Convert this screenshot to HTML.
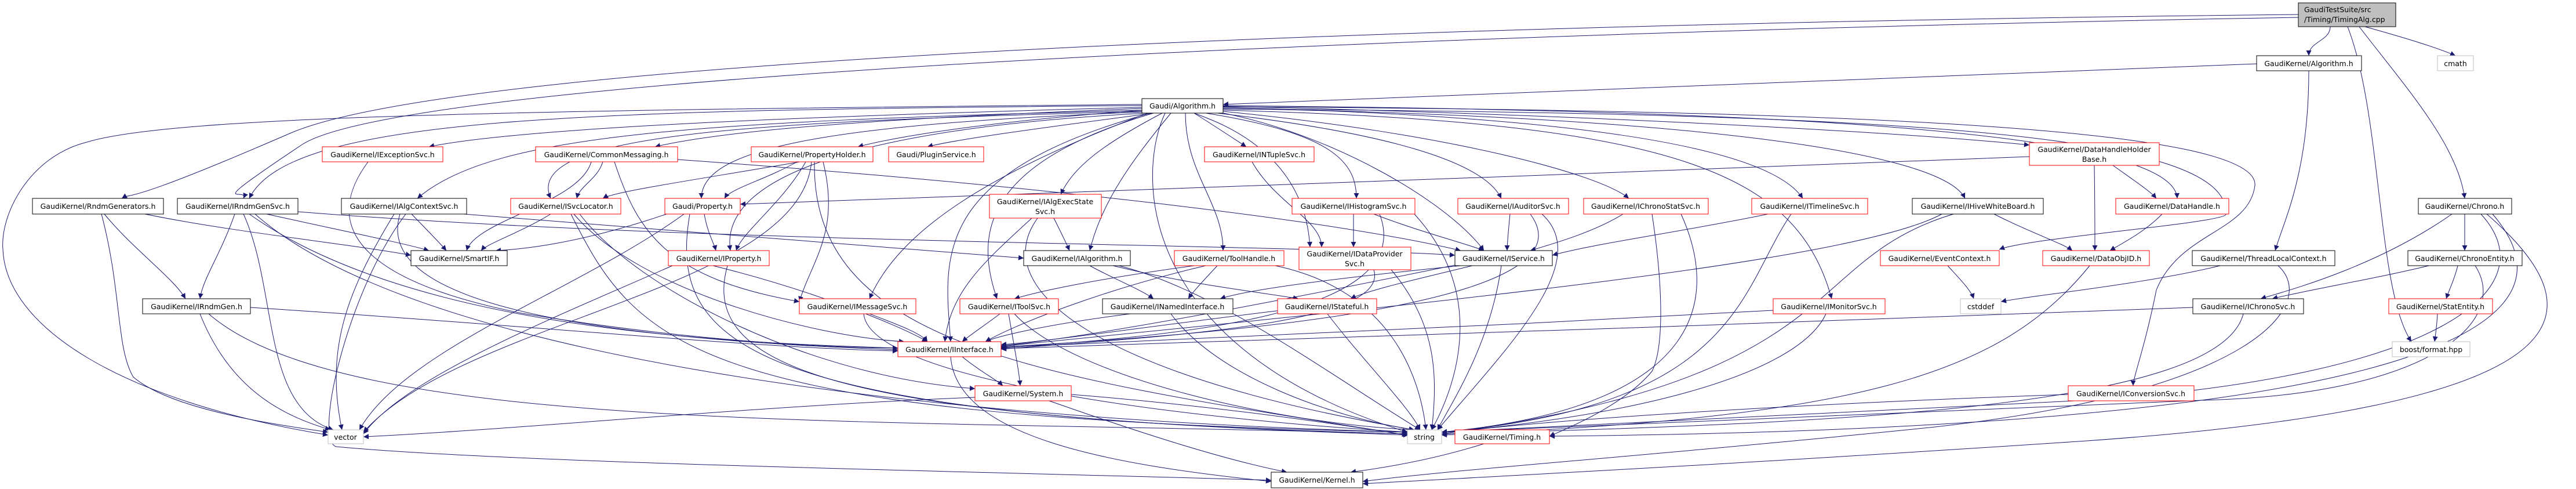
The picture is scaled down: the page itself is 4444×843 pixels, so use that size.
<!DOCTYPE html>
<html><head><meta charset="utf-8"><style>
html,body{margin:0;padding:0;background:#fff;width:4444px;height:843px;overflow:hidden}
svg{display:block}
text{font-family:"DejaVu Sans","Liberation Sans",sans-serif;font-size:12.5px;fill:#000}
.r{fill:#fff;stroke:#ff0000;stroke-width:1}
.b{fill:#fff;stroke:#000;stroke-width:1}
.g{fill:#fff;stroke:#bfbfbf;stroke-width:1}
.e path{fill:none;stroke:#191970;stroke-width:1;marker-end:url(#a)}
</style></head><body>
<svg width="4444" height="843" viewBox="0 0 4444 843" xmlns="http://www.w3.org/2000/svg">
<defs><marker id="a" viewBox="0 0 10 10" refX="10" refY="5" markerWidth="10" markerHeight="9" markerUnits="userSpaceOnUse" orient="auto"><path d="M0,0 L10,5 L0,10z" fill="#191970" stroke="none"/></marker></defs>
<g class="e">
<path d="M4020,46 C4020,71 3983,71 3983,96"/>
<path d="M4080,46 C4130,60 4200,80 4236,96"/>
<path d="M4070,46 C4150,150 4240,250 4252,342"/>
<path d="M4050,46 C4110,200 4100,500 4160,589"/>
<path d="M3965,25 C2500,40 800,100 500,230 S230,330 210,342"/>
<path d="M3965,30 C2500,55 700,130 520,250 S430,320 420,342"/>
<path d="M3893,110 L2110,180"/>
<path d="M3983,122 C3983,300 3940,380 3925,432"/>
<path d="M1970,185 C1400,200 900,220 740,253"/>
<path d="M1970,187 C1500,205 1250,225 1130,253"/>
<path d="M1972,190 C1700,210 1550,235 1480,253"/>
<path d="M1990,195 C1800,220 1650,240 1600,253"/>
<path d="M2060,195 C2100,220 2130,240 2150,253"/>
<path d="M1970,182 C1000,190 500,200 430,342"/>
<path d="M1970,190 C1200,210 850,230 720,342"/>
<path d="M1970,192 C1300,210 900,230 950,342"/>
<path d="M1975,193 C1400,215 1210,260 1210,342"/>
<path d="M1978,195 C1500,220 1240,300 1260,432"/>
<path d="M1970,180 C900,190 300,200 150,245 C50,270 0,370 5,430 C10,560 200,690 566,750"/>
<path d="M2010,195 C1960,300 1960,600 2428,745"/>
<path d="M2020,195 C1950,280 1900,350 1880,432"/>
<path d="M2005,195 C1900,250 1850,290 1830,335"/>
<path d="M1990,195 C1700,280 1680,400 1720,515"/>
<path d="M1985,195 C1600,300 1630,450 1640,589"/>
<path d="M1980,195 C1700,300 1550,400 1500,515"/>
<path d="M2045,195 C2045,300 2110,350 2110,432"/>
<path d="M2060,195 C2100,210 2250,260 2260,426"/>
<path d="M2080,195 C2300,230 2340,280 2340,342"/>
<path d="M2100,195 C2400,230 2560,280 2590,342"/>
<path d="M2110,192 C2500,230 2760,300 2810,342"/>
<path d="M2100,193 C2300,230 2500,350 2560,432"/>
<path d="M2110,185 C2700,200 3050,250 3110,342"/>
<path d="M2110,187 C2900,200 3350,260 3390,342"/>
<path d="M2110,183 C2800,200 3300,230 3501,250"/>
<path d="M2110,182 C3000,190 3750,220 3756,342"/>
<path d="M2110,188 C3300,195 3850,230 3840,370 C3830,385 3500,410 3449,430"/>
<path d="M2110,190 C2900,210 3100,300 3160,515"/>
<path d="M2110,184 C3200,190 3900,220 3890,320 C3880,400 3760,400 3720,500 C3700,600 3680,650 3680,665"/>
<path d="M1020,279 C1000,350 820,380 805,432"/>
<path d="M1040,279 C1030,310 1000,320 995,342"/>
<path d="M1060,279 C1100,400 1150,480 1379,520"/>
<path d="M1169,275 C1800,320 2300,380 2520,432"/>
<path d="M635,279 C560,380 600,480 900,540 C1200,590 1450,600 1549,600"/>
<path d="M1380,279 C1200,310 1060,330 1040,342"/>
<path d="M1375,279 C1320,310 1260,325 1250,342"/>
<path d="M1390,279 C1350,350 1280,400 1270,432"/>
<path d="M1400,279 C1380,500 800,550 627,745"/>
<path d="M1405,279 C1400,600 1800,650 2428,750"/>
<path d="M1420,279 C1450,400 1400,450 1379,520"/>
<path d="M180,369 C230,430 300,480 320,515"/>
<path d="M250,369 C400,400 600,420 709,440"/>
<path d="M175,369 C210,500 200,600 230,650 C300,710 500,735 566,745"/>
<path d="M405,369 C380,440 350,480 345,515"/>
<path d="M460,369 C600,400 700,420 740,432"/>
<path d="M420,369 C480,500 450,700 575,741"/>
<path d="M440,369 C700,600 1500,720 2428,745"/>
<path d="M514,365 C1200,420 2200,420 2510,440"/>
<path d="M430,369 C700,560 1200,590 1549,600"/>
<path d="M432,530 C900,560 1300,600 1549,605"/>
<path d="M345,541 C400,680 500,720 570,741"/>
<path d="M360,541 C600,750 1500,720 2428,748"/>
<path d="M710,369 C740,400 760,420 770,432"/>
<path d="M680,369 C600,500 560,600 590,741"/>
<path d="M690,369 C650,500 900,580 1549,603"/>
<path d="M800,369 C1200,400 1600,430 1766,445"/>
<path d="M700,369 C600,500 540,760 580,770 C900,800 1800,815 2193,828"/>
<path d="M950,369 C900,400 840,420 830,432"/>
<path d="M990,369 C1100,500 1400,580 1560,589"/>
<path d="M985,369 C1100,600 1200,720 2430,745"/>
<path d="M1000,369 C1100,500 1400,650 1682,670"/>
<path d="M1215,369 C1220,400 1232,420 1235,432"/>
<path d="M1150,369 C1000,420 900,430 855,432"/>
<path d="M1180,369 C1000,500 700,600 620,741"/>
<path d="M1190,369 C1150,600 1300,720 2430,748"/>
<path d="M1230,458 C1400,500 1550,560 1600,589"/>
<path d="M1160,458 C950,550 700,650 627,748"/>
<path d="M1255,458 C1200,650 1500,720 2430,750"/>
<path d="M1818,376 C1830,400 1840,420 1845,432"/>
<path d="M1780,376 C1700,450 1640,500 1630,589"/>
<path d="M1790,376 C1700,500 1900,650 2440,741"/>
<path d="M1880,458 C1920,480 1970,500 1990,515"/>
<path d="M1920,458 C2050,490 2150,500 2240,515"/>
<path d="M1930,458 C2100,500 2300,650 2450,741"/>
<path d="M2060,458 C1900,480 1800,500 1750,515"/>
<path d="M2100,458 C2080,480 2060,500 2050,515"/>
<path d="M2080,458 C1900,500 1750,560 1700,589"/>
<path d="M2200,458 C2400,500 2450,650 2460,741"/>
<path d="M2370,465 C2400,560 2000,580 1727,602"/>
<path d="M2400,465 C2480,560 2480,650 2470,741"/>
<path d="M2160,279 C2200,350 2280,380 2280,426"/>
<path d="M2335,369 C2335,390 2335,410 2335,426"/>
<path d="M2370,369 C2450,400 2530,420 2560,432"/>
<path d="M2380,369 C2450,550 2000,580 1727,600"/>
<path d="M2440,369 C2560,500 2520,650 2470,741"/>
<path d="M2605,369 C2602,400 2600,420 2600,432"/>
<path d="M2640,369 C2700,450 2600,550 1727,598"/>
<path d="M2660,369 C2750,450 2600,600 2480,741"/>
<path d="M2800,369 C2750,400 2680,420 2640,432"/>
<path d="M2850,369 C2870,500 2870,600 2850,640 C2800,700 2700,740 2673,752"/>
<path d="M2900,369 C2960,500 2960,700 2487,745"/>
<path d="M3050,369 C2900,400 2750,420 2678,440"/>
<path d="M3090,369 C3000,500 3000,700 2487,745"/>
<path d="M3440,369 C3500,400 3560,420 3575,432"/>
<path d="M3350,369 C3200,450 2500,520 1727,597"/>
<path d="M3370,369 C3100,450 3200,650 2487,748"/>
<path d="M3613,285 C3614,350 3614,400 3614,432"/>
<path d="M3645,285 C3680,310 3710,330 3720,342"/>
<path d="M3501,270 C2800,300 1800,330 1277,352"/>
<path d="M3730,369 C3700,400 3660,420 3640,432"/>
<path d="M3605,458 C3450,650 3200,720 2487,750"/>
<path d="M3360,458 C3380,480 3400,500 3405,515"/>
<path d="M3830,458 C3700,490 3500,510 3452,520"/>
<path d="M3930,458 C4000,520 3900,680 3300,740 C2800,790 2500,810 2351,830"/>
<path d="M4230,369 C4100,460 3950,500 3900,515"/>
<path d="M4252,369 C4252,400 4252,420 4252,432"/>
<path d="M4290,369 C4500,550 4450,700 3600,760 C3000,800 2600,820 2351,834"/>
<path d="M4280,369 C4400,500 4200,650 3600,690 C3000,720 2700,735 2487,745"/>
<path d="M4300,369 C4500,600 4000,740 2673,752"/>
<path d="M4240,458 C4235,480 4225,500 4220,515"/>
<path d="M4190,458 C4100,480 3980,500 3920,515"/>
<path d="M4270,458 C4330,550 4200,680 3800,690 C3300,710 2800,730 2487,745"/>
<path d="M4205,541 C4204,560 4202,575 4200,589"/>
<path d="M1500,541 C1550,560 1590,575 1600,589"/>
<path d="M1490,541 C1500,650 2000,720 2430,745"/>
<path d="M1725,541 C1700,560 1670,580 1660,589"/>
<path d="M1740,541 C1750,600 1758,640 1760,665"/>
<path d="M1750,541 C1850,650 2200,730 2440,741"/>
<path d="M1950,541 C1800,560 1720,580 1700,589"/>
<path d="M2020,541 C2100,650 2300,720 2440,741"/>
<path d="M2210,535 C2000,560 1800,590 1727,594"/>
<path d="M2290,541 C2350,620 2430,700 2450,741"/>
<path d="M2520,458 C2300,480 2150,500 2105,515"/>
<path d="M2540,458 C2450,480 2360,500 2330,515"/>
<path d="M2590,458 C2570,600 2500,700 2480,741"/>
<path d="M2520,455 C2300,500 1900,580 1727,596"/>
<path d="M3059,535 C2600,560 2000,590 1727,599"/>
<path d="M3150,541 C3100,650 2800,720 2487,745"/>
<path d="M3783,530 C3200,550 2200,590 1727,601"/>
<path d="M3870,541 C3830,700 3200,730 2487,748"/>
<path d="M3568,680 C3000,700 2600,730 2487,748"/>
<path d="M1660,615 C1690,640 1720,655 1730,665"/>
<path d="M1640,615 C1650,750 1900,800 2193,830"/>
<path d="M1848,680 C2100,700 2300,730 2428,750"/>
<path d="M1810,691 C1950,740 2100,790 2220,814"/>
<path d="M1682,685 C1300,700 900,740 627,753"/>
<path d="M2560,765 C2480,790 2400,805 2330,814"/>
</g>
<rect class="b" x="3965" y="5" width="168" height="41" style="fill:#bfbfbf"/>
<text x="3975" y="21">GaudiTestSuite/src</text><text x="3975" y="38">/Timing/TimingAlg.cpp</text>
<g text-anchor="middle">
<rect class="b" x="3893" y="96" width="181" height="26"/><text x="3983" y="114">GaudiKernel/Algorithm.h</text>
<rect class="g" x="4205" y="96" width="62" height="26"/><text x="4236" y="114">cmath</text>
<rect class="b" x="1970" y="170" width="140" height="25"/><text x="2040" y="187">Gaudi/Algorithm.h</text>
<rect class="r" x="556" y="253" width="208" height="26"/><text x="660" y="271">GaudiKernel/IExceptionSvc.h</text>
<rect class="r" x="924" y="253" width="245" height="26"/><text x="1046" y="271">GaudiKernel/CommonMessaging.h</text>
<rect class="r" x="1296" y="253" width="210" height="26"/><text x="1401" y="271">GaudiKernel/PropertyHolder.h</text>
<rect class="r" x="1533" y="253" width="164" height="26"/><text x="1615" y="271">Gaudi/PluginService.h</text>
<rect class="r" x="2078" y="253" width="189" height="26"/><text x="2172" y="271">GaudiKernel/INTupleSvc.h</text>
<rect class="r" x="3501" y="246" width="224" height="39"/><text x="3613" y="262">GaudiKernel/DataHandleHolder</text><text x="3613" y="279">Base.h</text>
<rect class="b" x="56" y="342" width="226" height="27"/><text x="169" y="360">GaudiKernel/RndmGenerators.h</text>
<rect class="b" x="306" y="342" width="208" height="27"/><text x="410" y="360">GaudiKernel/IRndmGenSvc.h</text>
<rect class="b" x="589" y="342" width="216" height="27"/><text x="697" y="360">GaudiKernel/IAlgContextSvc.h</text>
<rect class="r" x="881" y="342" width="190" height="27"/><text x="976" y="360">GaudiKernel/ISvcLocator.h</text>
<rect class="r" x="1147" y="342" width="130" height="27"/><text x="1212" y="360">Gaudi/Property.h</text>
<rect class="r" x="1707" y="335" width="193" height="41"/><text x="1803" y="352">GaudiKernel/IAlgExecState</text><text x="1803" y="369">Svc.h</text>
<rect class="r" x="2229" y="342" width="212" height="27"/><text x="2335" y="360">GaudiKernel/IHistogramSvc.h</text>
<rect class="r" x="2515" y="342" width="191" height="27"/><text x="2610" y="360">GaudiKernel/IAuditorSvc.h</text>
<rect class="r" x="2732" y="342" width="215" height="27"/><text x="2839" y="360">GaudiKernel/IChronoStatSvc.h</text>
<rect class="r" x="3022" y="342" width="200" height="27"/><text x="3122" y="360">GaudiKernel/ITimelineSvc.h</text>
<rect class="b" x="3299" y="342" width="226" height="27"/><text x="3412" y="360">GaudiKernel/IHiveWhiteBoard.h</text>
<rect class="r" x="3650" y="342" width="195" height="27"/><text x="3747" y="360">GaudiKernel/DataHandle.h</text>
<rect class="b" x="4172" y="342" width="161" height="27"/><text x="4252" y="360">GaudiKernel/Chrono.h</text>
<rect class="b" x="709" y="432" width="166" height="26"/><text x="792" y="450">GaudiKernel/SmartIF.h</text>
<rect class="r" x="1153" y="432" width="174" height="26"/><text x="1240" y="450">GaudiKernel/IProperty.h</text>
<rect class="b" x="1766" y="432" width="184" height="26"/><text x="1858" y="450">GaudiKernel/IAlgorithm.h</text>
<rect class="r" x="2026" y="432" width="189" height="26"/><text x="2120" y="450">GaudiKernel/ToolHandle.h</text>
<rect class="r" x="2241" y="426" width="193" height="39"/><text x="2337" y="442">GaudiKernel/IDataProvider</text><text x="2337" y="459">Svc.h</text>
<rect class="b" x="2510" y="432" width="168" height="26"/><text x="2594" y="450">GaudiKernel/IService.h</text>
<rect class="r" x="3244" y="432" width="205" height="26"/><text x="3346" y="450">GaudiKernel/EventContext.h</text>
<rect class="r" x="3524" y="432" width="184" height="26"/><text x="3616" y="450">GaudiKernel/DataObjID.h</text>
<rect class="b" x="3782" y="432" width="246" height="26"/><text x="3905" y="450">GaudiKernel/ThreadLocalContext.h</text>
<rect class="b" x="4154" y="432" width="197" height="26"/><text x="4252" y="450">GaudiKernel/ChronoEntity.h</text>
<rect class="b" x="246" y="515" width="186" height="26"/><text x="339" y="533">GaudiKernel/IRndmGen.h</text>
<rect class="r" x="1379" y="515" width="201" height="26"/><text x="1479" y="533">GaudiKernel/IMessageSvc.h</text>
<rect class="r" x="1656" y="515" width="170" height="26"/><text x="1741" y="533">GaudiKernel/IToolSvc.h</text>
<rect class="b" x="1902" y="515" width="225" height="26"/><text x="2014" y="533">GaudiKernel/INamedInterface.h</text>
<rect class="r" x="2204" y="515" width="171" height="26"/><text x="2289" y="533">GaudiKernel/IStateful.h</text>
<rect class="r" x="3059" y="515" width="193" height="26"/><text x="3155" y="533">GaudiKernel/IMonitorSvc.h</text>
<rect class="g" x="3382" y="515" width="70" height="26"/><text x="3417" y="533">cstddef</text>
<rect class="b" x="3783" y="515" width="191" height="26"/><text x="3878" y="533">GaudiKernel/IChronoSvc.h</text>
<rect class="r" x="4121" y="515" width="179" height="26"/><text x="4210" y="533">GaudiKernel/StatEntity.h</text>
<rect class="r" x="1549" y="589" width="178" height="26"/><text x="1638" y="607">GaudiKernel/IInterface.h</text>
<rect class="g" x="4127" y="589" width="134" height="26"/><text x="4194" y="607">boost/format.hpp</text>
<rect class="r" x="1682" y="665" width="166" height="26"/><text x="1765" y="683">GaudiKernel/System.h</text>
<rect class="r" x="3568" y="665" width="217" height="26"/><text x="3676" y="683">GaudiKernel/IConversionSvc.h</text>
<rect class="g" x="566" y="741" width="61" height="24"/><text x="596" y="758">vector</text>
<rect class="g" x="2428" y="741" width="59" height="24"/><text x="2457" y="758">string</text>
<rect class="r" x="2510" y="741" width="163" height="24"/><text x="2591" y="758">GaudiKernel/Timing.h</text>
<rect class="b" x="2193" y="814" width="158" height="27"/><text x="2272" y="832">GaudiKernel/Kernel.h</text>
</g>
</svg>
</body></html>
